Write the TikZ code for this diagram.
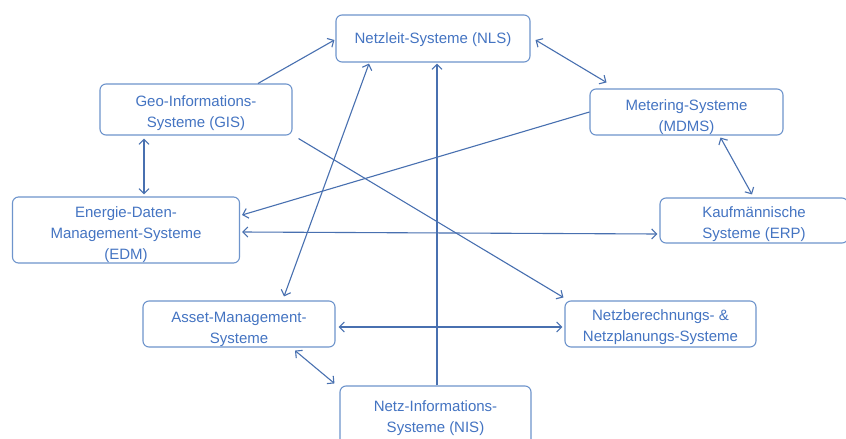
\documentclass[tikz,border=0pt]{standalone}
\usepackage{fontspec}
\setmainfont{Liberation Sans}
\usetikzlibrary{arrows.meta}
\definecolor{boxline}{RGB}{110,148,204}
\definecolor{boxtext}{RGB}{68,116,194}
\definecolor{arrowc}{RGB}{72,112,176}
\tikzset{
  sysbox/.style={draw=boxline, line width=1.1pt, rounded corners=6pt, fill=white, inner sep=0pt},
  systext/.style={text=boxtext, align=center, inner sep=0pt,
    font=\fontsize{15}{21}\selectfont},
  conn/.style={draw=arrowc, line width=1.1pt},
  tip/.tip={Straight Barb[length=5pt,width=10pt,line width=1.1pt]}
}
\begin{document}
\begin{tikzpicture}[x=1pt,y=-1pt]
\useasboundingbox (0,0) rectangle (846,439);
\clip (0,0) rectangle (846,439);
\fill[white] (0,0) rectangle (846,439);

\node[sysbox, minimum width=194pt, minimum height=47pt] (NLS) at (433,38.5) {};
\node[sysbox, minimum width=192pt, minimum height=51pt] (GIS) at (196,109.5) {};
\node[sysbox, minimum width=227pt, minimum height=66pt] (EDM) at (126,230) {};
\node[sysbox, minimum width=193pt, minimum height=46pt] (MDMS) at (686.5,112) {};
\node[sysbox, minimum width=188pt, minimum height=45pt] (ERP) at (754,220.5) {};
\node[sysbox, minimum width=192pt, minimum height=46pt] (Asset) at (239,324) {};
\node[sysbox, minimum width=191pt, minimum height=46pt] (Netz) at (660.5,324) {};
\node[sysbox, minimum width=191pt, minimum height=60pt] (NIS) at (435.5,416) {};

\node[systext] (NLSt) at ([yshift=-1pt]NLS.center) {Netzleit-Systeme (NLS)};
\node[systext] (GISt) at ([yshift=-3.5pt]GIS.center) {Geo-Informations-\\Systeme (GIS)};
\node[systext] (EDMt) at ([yshift=-5pt]EDM.center) {Energie-Daten-\\Management-Systeme\\(EDM)};
\node[systext] (MDMSt) at ([yshift=-5pt]MDMS.center) {Metering-Systeme\\(MDMS)};
\node[systext] (ERPt) at ([yshift=-4pt]ERP.center) {Kaufmännische\\Systeme (ERP)};
\node[systext] (Assett) at ([yshift=-5.5pt]Asset.center) {Asset-Management-\\Systeme};
\node[systext] (Netzt) at ([yshift=-3pt]Netz.center) {Netzberechnungs- \&\\Netzplanungs-Systeme};
\node[systext] (NISt) at ([yshift=-2.5pt]NIS.center) {Netz-Informations-\\Systeme (NIS)};

\draw[conn, -{tip}] ([xshift=62pt]GIS.north) -- ([xshift=-1pt,yshift=-1.5pt]NLS.west);
\draw[conn, {tip}-{tip}] ([xshift=5pt,yshift=-1.5pt]NLS.east) -- ([xshift=-80pt,yshift=6pt]MDMS.north);
\draw[conn, {tip}-{tip}] ([xshift=-52pt,yshift=-3pt]GIS.south) -- ([xshift=18pt,yshift=2pt]EDM.north);
\draw[conn, -{tip}] (MDMS.west) -- ([xshift=2pt,yshift=15pt]EDM.east);
\draw[conn, {tip}-{tip}] ([xshift=34pt,yshift=-2pt]MDMS.south) -- ([xshift=-2pt,yshift=3pt]ERP.north);
\draw[conn, {tip}-{tip}] ([xshift=2pt,yshift=-2pt]EDM.east) -- ([xshift=-2pt,yshift=-13.5pt]ERP.west);
\draw[conn, {tip}-{tip}] ([xshift=-64pt,yshift=-1pt]NLS.south) -- ([xshift=45pt,yshift=4pt]Asset.north);
\draw[conn, -{tip}] ([xshift=1.5pt]NIS.north) -- ([xshift=4pt,yshift=-1pt]NLS.south);
\draw[conn, -{tip}] ([xshift=6pt,yshift=-3pt]GIS.south east) -- ([xshift=-1pt,yshift=3pt]Netz.north west);
\draw[conn, {tip}-{tip}] ([xshift=3pt,yshift=-3pt]Asset.east) -- ([xshift=-2pt,yshift=-3pt]Netz.west);
\draw[conn, {tip}-{tip}] ([xshift=56pt,yshift=-3pt]Asset.south) -- ([xshift=-5pt,yshift=2pt]NIS.north west);
\end{tikzpicture}
\end{document}
